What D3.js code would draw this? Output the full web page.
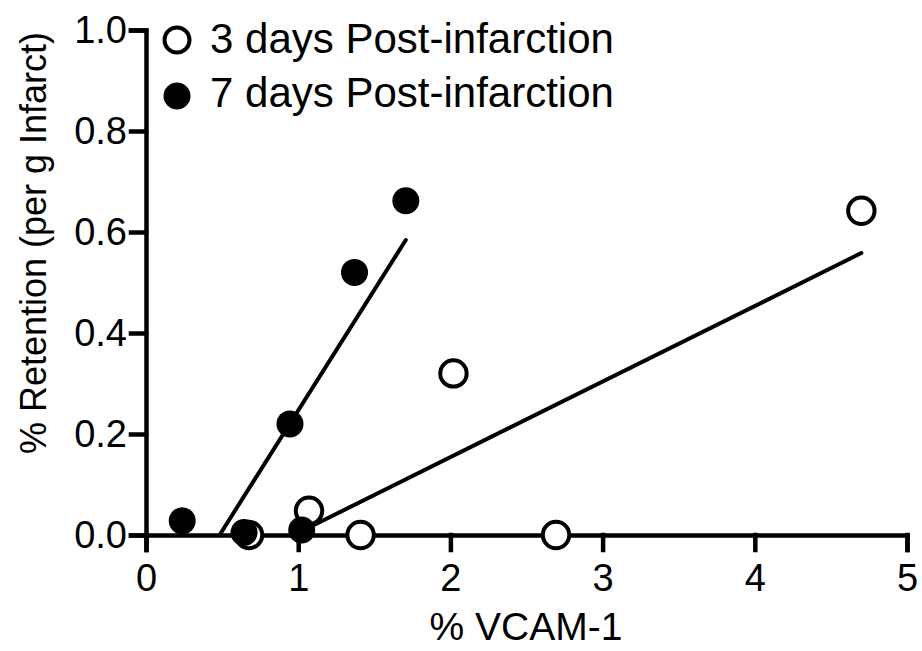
<!DOCTYPE html>
<html>
<head>
<meta charset="utf-8">
<script src="https://cdn.jsdelivr.net/npm/d3@7"></script>
<style>
  html, body { margin: 0; padding: 0; background: #fff; }
  svg { display: block; }
  svg text { font-family: Arial, "Liberation Sans", Helvetica, sans-serif; }
</style>
</head>
<body>
<svg id="chart" width="922" height="651"></svg>
<script>
// ---- data ----
const seriesNames = ["3 days Post-infarction", "7 days Post-infarction"];
const day3X = [0.677, 1.071, 1.41, 2.02, 2.694, 4.70];
const day3Y = [0.0, 0.048, 0.0, 0.32, 0.0, 0.642];
const day7X = [0.238, 0.644, 0.946, 1.023, 1.37, 1.707];
const day7Y = [0.028, 0.005, 0.22, 0.01, 0.52, 0.662];
const xTicks = [0, 1, 2, 3, 4, 5];
const yTicks = [0.0, 0.2, 0.4, 0.6, 0.8, 1.0];
const xTitle = "% VCAM-1";
const yTitle = "% Retention (per g Infarct)";

// ---- layout ----
const FONT = "Arial, 'Liberation Sans', Helvetica, sans-serif";
const svg = d3.select("#chart");
const x = d3.scaleLinear().domain([0, 5]).range([146, 907]);
const y = d3.scaleLinear().domain([0, 1]).range([535, 30]);
const axisW = 4.5;

function fitLine(xs, ys) {
  const n = xs.length;
  const mx = d3.mean(xs), my = d3.mean(ys);
  let sxy = 0, sxx = 0;
  for (let i = 0; i < n; i++) { sxy += (xs[i]-mx)*(ys[i]-my); sxx += (xs[i]-mx)**2; }
  const b = sxy / sxx, a = my - b*mx;
  let x0 = d3.min(xs), x1 = d3.max(xs);
  if (a + b*x0 < 0) x0 = -a / b;
  return [[x0, a + b*x0], [x1, a + b*x1]];
}

// axes
const xAxis = d3.axisBottom(x).tickValues(xTicks).tickFormat(d3.format("d"))
  .tickSize(15).tickSizeOuter(15).tickPadding(14);
const yAxis = d3.axisLeft(y).tickValues(yTicks).tickFormat(d3.format(".1f"))
  .tickSize(15).tickSizeOuter(15).tickPadding(4);

const gx = svg.append("g").attr("transform", `translate(0,${y(0)})`).call(xAxis);
const gy = svg.append("g").attr("transform", `translate(${x(0)},0)`).call(yAxis);
[gx, gy].forEach(g => {
  g.attr("font-family", FONT);
  g.selectAll("path, line").attr("stroke", "#000").attr("stroke-width", axisW)
    .attr("stroke-linecap", "square").attr("stroke-linejoin", "miter");
  g.selectAll("text").attr("fill", "#000").attr("font-size", 38)
    .attr("font-family", FONT);
});

// regression lines
const line = d3.line().x(d => x(d[0])).y(d => y(d[1]));
svg.append("path").datum(fitLine(day3X, day3Y)).attr("d", line)
  .attr("stroke", "#000").attr("stroke-width", 4).attr("fill", "none").attr("stroke-linecap", "round");
svg.append("path").datum(fitLine(day7X, day7Y)).attr("d", line)
  .attr("stroke", "#000").attr("stroke-width", 4).attr("fill", "none").attr("stroke-linecap", "round");

// points
svg.append("g").selectAll("circle").data(d3.zip(day3X, day3Y)).join("circle")
  .attr("cx", d => x(d[0])).attr("cy", d => y(d[1])).attr("r", 13.2)
  .attr("fill", "#fff").attr("stroke", "#000").attr("stroke-width", 4);
svg.append("g").selectAll("circle").data(d3.zip(day7X, day7Y)).join("circle")
  .attr("cx", d => x(d[0])).attr("cy", d => y(d[1])).attr("r", 13.5)
  .attr("fill", "#000");

// legend
const leg = svg.append("g");
leg.append("circle").attr("cx", 177).attr("cy", 40).attr("r", 12.5)
  .attr("fill", "#fff").attr("stroke", "#000").attr("stroke-width", 4);
leg.append("circle").attr("cx", 177).attr("cy", 96).attr("r", 13.5).attr("fill", "#000");
leg.selectAll("text").data(seriesNames).join("text")
  .attr("x", 210).attr("y", (d, i) => 53 + i*54)
  .attr("font-family", FONT).attr("font-size", 42).attr("fill", "#000").text(d => d);

// titles
svg.append("text").attr("x", 526).attr("y", 640).attr("text-anchor", "middle")
  .attr("font-family", FONT).attr("font-size", 39).attr("fill", "#000").text(xTitle);
svg.append("text").attr("transform", "translate(46,243) rotate(-90)")
  .attr("text-anchor", "middle").attr("font-family", FONT).attr("font-size", 36)
  .attr("fill", "#000").text(yTitle);
</script>
</body>
</html>
